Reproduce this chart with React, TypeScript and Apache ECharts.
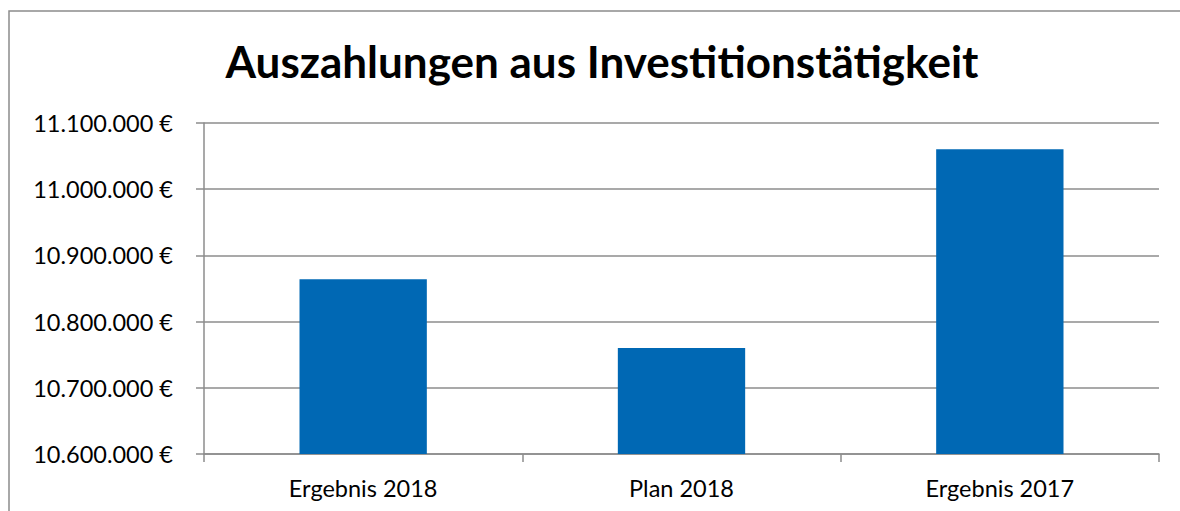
import React, { useEffect, useRef } from "react";
import * as echarts from "echarts";

const categories = ["Ergebnis 2018", "Plan 2018", "Ergebnis 2017"];
const values = [10864000, 10760000, 11060500];
const yMin = 10600000;
const yMax = 11100000;
const yStep = 100000;
const title = "Auszahlungen aus Investitionstätigkeit";

const fmt = (v: number) =>
  String(Math.round(v)).replace(/\B(?=(\d{3})+(?!\d))/g, ".") + " €";

export default function App() {
  const ref = useRef<HTMLDivElement>(null);
  useEffect(() => {
    if (!ref.current) return;
    const chart = echarts.init(ref.current, null, { renderer: "svg" });
    const gray = "#8c8c8c";
    const font = "Lato, 'Open Sans', sans-serif";
    chart.setOption({
      animation: false,
      backgroundColor: "#ffffff",
      title: {
        text: title,
        left: 597,
        textAlign: "center",
        top: 34,
        textStyle: { fontFamily: font, fontWeight: "bold", fontSize: 44, color: "#000" },
      },
      graphic: [
        {
          type: "rect",
          shape: { x: 9, y: 11, width: 1300, height: 700 },
          style: { fill: "none", stroke: gray, lineWidth: 1.5 },
          silent: true,
        },
      ],
      grid: { left: 204, right: 21, top: 123, bottom: 57 },
      xAxis: {
        type: "category",
        data: categories,
        axisLine: { lineStyle: { color: gray, width: 1.5 } },
        axisTick: { show: true, length: 8, lineStyle: { color: gray, width: 1.5 } },
        axisLabel: { color: "#000", fontFamily: font, fontSize: 23.5, margin: 22 },
      },
      yAxis: {
        type: "value",
        min: yMin,
        max: yMax,
        interval: yStep,
        axisLine: { show: true, lineStyle: { color: gray, width: 1.5 } },
        axisTick: { show: true, length: 8, lineStyle: { color: gray, width: 1.5 } },
        splitLine: { lineStyle: { color: gray, width: 1.5 } },
        axisLabel: { color: "#000", fontFamily: font, fontSize: 23.5, margin: 31, formatter: fmt },
      },
      series: [
        {
          type: "bar",
          data: values,
          barCategoryGap: "60%",
          itemStyle: { color: "#0068B4" },
        },
      ],
    });
    return () => chart.dispose();
  }, []);
  return (
    <div
      ref={ref}
      style={{ position: "fixed", left: 0, top: 0, width: 1180, height: 511 }}
    />
  );
}
